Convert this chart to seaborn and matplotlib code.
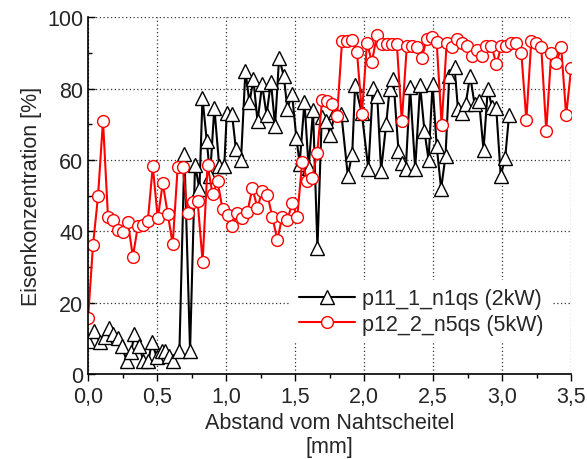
import numpy as np
import pandas as pd
import matplotlib
matplotlib.use("Agg")
import matplotlib.pyplot as plt
import seaborn as sns
from matplotlib.ticker import MultipleLocator, FuncFormatter

# p11_1_n1qs (2kW) - black triangles
x_2kw = [0.000, 0.040, 0.089, 0.123, 0.155, 0.184, 0.215, 0.244, 0.280, 0.312,
         0.336, 0.372, 0.401, 0.437, 0.462, 0.498, 0.534, 0.560, 0.587, 0.618,
         0.662, 0.698, 0.739, 0.775, 0.807, 0.829, 0.860, 0.884, 0.915, 0.950,
         0.987, 1.005, 1.043, 1.071, 1.108, 1.140, 1.169, 1.198, 1.228, 1.261,
         1.293, 1.325, 1.355, 1.384, 1.418, 1.444, 1.478, 1.509, 1.533, 1.568,
         1.598, 1.630, 1.662, 1.693, 1.727, 1.754, 1.790, 1.835, 1.882, 1.914,
         1.935, 1.983, 2.031, 2.063, 2.095, 2.123, 2.160, 2.185, 2.212, 2.249,
         2.273, 2.302, 2.333, 2.370, 2.406, 2.437, 2.467, 2.496, 2.526, 2.558,
         2.590, 2.617, 2.655, 2.680, 2.708, 2.736, 2.768, 2.800, 2.833, 2.865,
         2.896, 2.926, 2.957, 2.990, 3.022, 3.050]
y_2kw = [9.3, 11.9, 8.9, 10.3, 12.8, 11.2, 10.0, 7.8, 3.7, 6.1,
         11.2, 7.9, 3.5, 3.5, 8.9, 4.7, 6.5, 6.5, 5.1, 3.7,
         6.5, 61.7, 6.5, 58.6, 51.9, 77.4, 65.4, 55.6, 74.7, 58.4,
         58.4, 73.1, 72.9, 63.1, 59.9, 85.0, 76.2, 82.6, 70.8, 81.2,
         72.7, 81.9, 69.6, 88.7, 83.5, 74.4, 78.5, 66.3, 59.0, 76.3,
         57.8, 74.0, 35.2, 72.0, 71.0, 67.0, 73.6, 73.0, 55.6, 61.8,
         81.1, 73.2, 57.4, 80.2, 78.0, 57.0, 70.1, 80.0, 82.7, 62.6,
         59.1, 57.5, 80.4, 57.5, 80.9, 68.2, 60.0, 81.3, 63.8, 51.9,
         61.2, 83.7, 86.0, 74.3, 73.1, 75.7, 83.7, 75.7, 76.5, 62.8,
         79.9, 75.0, 74.6, 55.6, 60.6, 72.5]

# p12_2_n5qs (5kW) - red circles, evenly spaced from 0 to 3.5 mm
y_5kw = [15.6, 36.2, 49.8, 71.0, 44.1, 43.3, 40.3, 39.9, 42.5, 32.9,
         41.4, 41.9, 42.9, 58.2, 43.6, 53.5, 44.9, 36.4, 58.1, 58.1,
         45.1, 48.2, 48.4, 31.5, 58.6, 50.4, 54.1, 46.2, 44.5, 41.4,
         45.1, 43.6, 45.5, 52.1, 46.6, 51.4, 50.3, 44.1, 37.6, 44.1,
         43.1, 47.9, 44.0, 59.5, 54.1, 54.9, 62.0, 76.9, 76.6, 75.8,
         72.3, 93.3, 93.5, 93.8, 90.2, 73.0, 92.8, 87.5, 95.1, 92.6,
         92.4, 92.6, 92.6, 70.8, 91.9, 92.0, 91.8, 88.5, 94.0, 94.4,
         93.0, 69.8, 92.7, 91.6, 94.0, 92.7, 91.9, 89.3, 90.9, 89.3,
         92.1, 92.1, 86.8, 92.1, 92.1, 92.7, 92.7, 90.0, 71.2, 93.5,
         92.7, 91.6, 68.2, 90.0, 87.2, 91.6, 72.5, 85.8]
x_5kw = np.linspace(0, 3.5, len(y_5kw))

label_2kw = "p11_1_n1qs (2kW)"
label_5kw = "p12_2_n5qs (5kW)"

df2 = pd.DataFrame({"x": x_2kw, "y": y_2kw})
df5 = pd.DataFrame({"x": x_5kw, "y": y_5kw})

sns.set_style("ticks")
plt.rcParams['font.family'] = ['Liberation Sans', 'DejaVu Sans']
plt.rcParams['font.size'] = 15.5

fig = plt.figure(figsize=(5.87, 4.60), dpi=100)
ax = fig.add_axes([0.150, 0.185, 0.823, 0.775])

sns.lineplot(data=df2, x="x", y="y", ax=ax, sort=False, estimator=None,
             color="black", lw=1.5, marker="^", ms=10, mfc="white",
             mec="black", mew=1.0, label=label_2kw)
sns.lineplot(data=df5, x="x", y="y", ax=ax, sort=False, estimator=None,
             color="red", lw=1.5, marker="o", ms=8.5, mfc="white",
             mec="red", mew=1.0, label=label_5kw)

ax.set_xlim(0, 3.5)
ax.set_ylim(0, 100)
ax.xaxis.set_major_locator(MultipleLocator(0.5))
ax.xaxis.set_minor_locator(MultipleLocator(0.25))
ax.yaxis.set_major_locator(MultipleLocator(20))
ax.yaxis.set_minor_locator(MultipleLocator(10))
ax.xaxis.set_major_formatter(FuncFormatter(lambda v, p: f"{v:.1f}".replace(".", ",")))

ax.tick_params(axis="x", which="major", direction="out", length=5, width=1, labelsize=15.5, color="black")
ax.tick_params(axis="x", which="minor", direction="out", length=3, width=1, color="black")
ax.tick_params(axis="y", which="major", direction="in", length=5, width=1, labelsize=15.5, color="black")
ax.tick_params(axis="y", which="minor", direction="in", length=3, width=1, color="black")

ax.grid(True, which="major", linestyle=(0, (1, 2)), color="#333333", linewidth=0.9)
ax.set_axisbelow(True)
sns.despine(ax=ax)
for s in ["left", "bottom"]:
    ax.spines[s].set_color("black")
    ax.spines[s].set_linewidth(1.2)

ax.set_xlabel("Abstand vom Nahtscheitel\n[mm]", fontsize=15.5, labelpad=4)
ax.set_ylabel("Eisenkonzentration [%]", fontsize=15.5, labelpad=4)

leg = ax.legend(loc="center", bbox_to_anchor=(0.69, 0.175), frameon=True,
                facecolor="white", edgecolor="none", framealpha=1,
                fontsize=15.5, handlelength=2.6, handletextpad=0.3,
                labelspacing=0.2, borderpad=0.4)

fig.savefig("out.png", dpi=100)
